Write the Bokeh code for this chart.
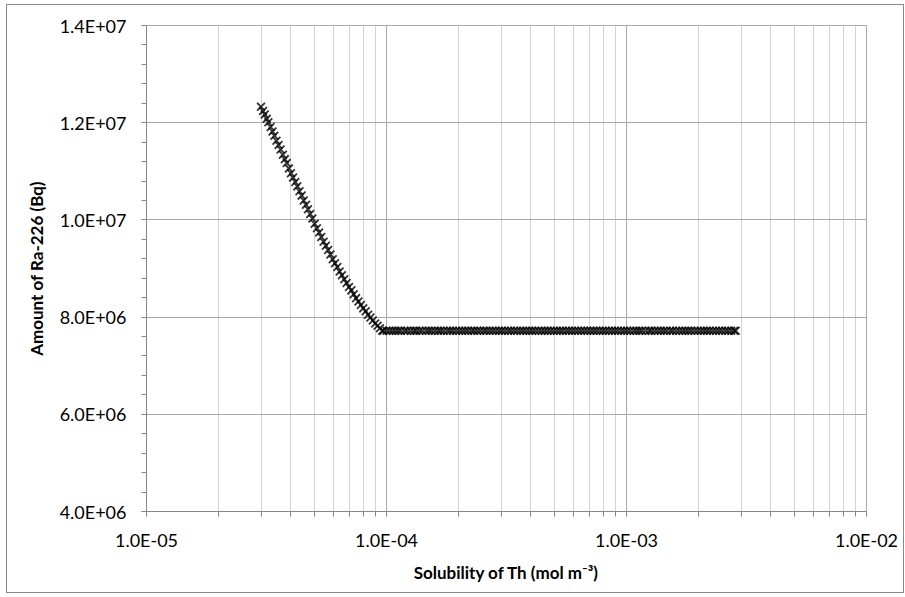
from bokeh.plotting import figure
from bokeh.models import ColumnDataSource, FixedTicker, CustomJSTickFormatter
from bokeh.embed import file_html
from bokeh.resources import INLINE

# Solubility of Th (mol m^-3) on the falling part of the curve
slope_x = [3.00e-5, 3.06e-5, 3.11e-5, 3.17e-5, 3.22e-5, 3.29e-5, 3.35e-5, 3.41e-5,
           3.48e-5, 3.55e-5, 3.62e-5, 3.70e-5, 3.77e-5, 3.84e-5, 3.92e-5, 4.00e-5,
           4.08e-5, 4.17e-5, 4.25e-5, 4.34e-5, 4.43e-5, 4.52e-5, 4.62e-5, 4.71e-5,
           4.81e-5, 4.91e-5, 5.02e-5, 5.13e-5, 5.24e-5, 5.35e-5, 5.47e-5, 5.59e-5,
           5.71e-5, 5.84e-5, 5.97e-5, 6.10e-5, 6.24e-5, 6.38e-5, 6.52e-5, 6.67e-5,
           6.82e-5, 6.98e-5, 7.14e-5, 7.30e-5, 7.47e-5, 7.64e-5, 7.82e-5, 8.00e-5,
           8.19e-5, 8.38e-5, 8.57e-5, 8.77e-5, 8.97e-5, 9.18e-5, 9.39e-5, 9.60e-5]
# Amount of Ra-226 (Bq) for those solubilities
slope_y = [1.233e7, 1.224e7, 1.217e7, 1.208e7, 1.201e7, 1.191e7, 1.182e7, 1.173e7,
           1.163e7, 1.154e7, 1.145e7, 1.134e7, 1.125e7, 1.117e7, 1.106e7, 1.096e7,
           1.087e7, 1.078e7, 1.069e7, 1.059e7, 1.050e7, 1.040e7, 1.031e7, 1.022e7,
           1.012e7, 1.003e7, 9.92e6, 9.83e6, 9.74e6, 9.65e6, 9.55e6, 9.47e6,
           9.38e6, 9.29e6, 9.19e6, 9.11e6, 9.03e6, 8.94e6, 8.86e6, 8.78e6,
           8.70e6, 8.62e6, 8.55e6, 8.47e6, 8.39e6, 8.32e6, 8.25e6, 8.18e6,
           8.12e6, 8.05e6, 7.99e6, 7.93e6, 7.87e6, 7.82e6, 7.77e6, 7.72e6]

# Solubilities above the knee, where the inventory stays constant
flat_x = [0.97e-4, 1.00e-4, 1.03e-4, 1.06e-4, 1.09e-4, 1.12e-4, 1.15e-4, 1.19e-4,
          1.22e-4, 1.26e-4, 1.30e-4, 1.33e-4, 1.37e-4, 1.41e-4, 1.46e-4, 1.50e-4,
          1.54e-4, 1.59e-4, 1.64e-4, 1.68e-4, 1.73e-4, 1.79e-4, 1.84e-4, 1.89e-4,
          1.95e-4, 2.01e-4, 2.07e-4, 2.13e-4, 2.19e-4, 2.26e-4, 2.32e-4, 2.39e-4,
          2.46e-4, 2.54e-4, 2.61e-4, 2.69e-4, 2.77e-4, 2.85e-4, 2.94e-4, 3.02e-4,
          3.11e-4, 3.21e-4, 3.30e-4, 3.40e-4, 3.50e-4, 3.61e-4, 3.71e-4, 3.82e-4,
          3.94e-4, 4.05e-4, 4.17e-4, 4.30e-4, 4.43e-4, 4.56e-4, 4.69e-4, 4.83e-4,
          4.98e-4, 5.13e-4, 5.28e-4, 5.43e-4, 5.60e-4, 5.76e-4, 5.93e-4, 6.11e-4,
          6.29e-4, 6.48e-4, 6.67e-4, 6.87e-4, 7.08e-4, 7.29e-4, 7.50e-4, 7.73e-4,
          7.96e-4, 8.19e-4, 8.44e-4, 8.69e-4, 8.95e-4, 9.21e-4, 9.49e-4, 9.77e-4,
          1.006e-3, 1.036e-3, 1.07e-3, 1.10e-3, 1.13e-3, 1.16e-3, 1.20e-3, 1.24e-3,
          1.27e-3, 1.31e-3, 1.35e-3, 1.39e-3, 1.43e-3, 1.47e-3, 1.52e-3, 1.56e-3,
          1.61e-3, 1.66e-3, 1.71e-3, 1.76e-3, 1.81e-3, 1.86e-3, 1.92e-3, 1.98e-3,
          2.04e-3, 2.10e-3, 2.16e-3, 2.22e-3, 2.29e-3, 2.36e-3, 2.43e-3, 2.50e-3,
          2.58e-3, 2.65e-3, 2.73e-3, 2.81e-3, 2.85e-3]
flat_level = 7.72e6
flat_y = [flat_level] * len(flat_x)

x_ticks = [1e-5, 1e-4, 1e-3, 1e-2]
y_ticks = [4e6, 6e6, 8e6, 1.0e7, 1.2e7, 1.4e7]

FONT = "Lato"
AXIS_GREY = "#868686"
MAJOR_GRID = "#a9a9a9"
MINOR_GRID = "#d3d3d3"

src = ColumnDataSource(data=dict(x=slope_x + flat_x, y=slope_y + flat_y))

p = figure(
    x_axis_type="log",
    x_range=(x_ticks[0], x_ticks[-1]),
    y_range=(y_ticks[0], y_ticks[-1]),
    frame_width=720, frame_height=486,
    min_border_left=139, min_border_right=37,
    min_border_top=20, min_border_bottom=81,
    output_backend="svg", toolbar_location=None,
    background_fill_color="white", border_fill_color="white",
)
p.margin = (4, 0, 0, 6)
p.styles = {"border": "1px solid #8a8a8a"}
p.outline_line_color = MAJOR_GRID

sci = CustomJSTickFormatter(code=r"""
const s = tick.toExponential(1).toUpperCase();
return s.replace(/E([+-])(\d+)$/, (m, sg, d) => "E" + sg + d.padStart(2, "0"));
""")

# x axis: decades with 2..9 minor ticks
x_minor = [m * d for d in x_ticks[:-1] for m in range(2, 10)]
p.xaxis.ticker = FixedTicker(ticks=x_ticks, minor_ticks=x_minor)
p.xgrid.ticker = p.xaxis.ticker
p.xaxis.formatter = sci

# y axis: majors every 2E+06, four minors between
y_minor = [y_ticks[0] + k * 4e5 for k in range(int((y_ticks[-1] - y_ticks[0]) / 4e5) + 1)]
p.yaxis.ticker = FixedTicker(ticks=y_ticks, minor_ticks=y_minor)
p.ygrid.ticker = FixedTicker(ticks=y_ticks)
p.yaxis.formatter = sci

for ax in (p.xaxis, p.yaxis):
    ax.axis_line_color = AXIS_GREY
    ax.major_tick_line_color = AXIS_GREY
    ax.minor_tick_line_color = AXIS_GREY
    ax.major_tick_in = 0
    ax.major_tick_out = 5
    ax.minor_tick_in = 0
    ax.minor_tick_out = 5
    ax.major_label_text_font = FONT
    ax.major_label_text_font_size = "18px"
    ax.major_label_text_color = "black"
    ax.axis_label_text_font = FONT
    ax.axis_label_text_font_size = "17px"
    ax.axis_label_text_font_style = "bold"
    ax.axis_label_text_color = "black"

p.xaxis.axis_label = "Solubility of Th (mol m\u207b\u00b3)"
p.yaxis.axis_label = "Amount of Ra-226 (Bq)"
p.xaxis.major_label_standoff = 12
p.xaxis.axis_label_standoff = 8
p.yaxis.major_label_standoff = 15
p.yaxis.axis_label_standoff = 10

p.xgrid.grid_line_color = MAJOR_GRID
p.xgrid.minor_grid_line_color = MINOR_GRID
p.ygrid.grid_line_color = MAJOR_GRID
p.ygrid.minor_grid_line_color = None

p.scatter("x", "y", source=src, marker="x", size=11,
          line_color="black", line_alpha=0.8, line_width=1.8)

open("out.html", "w").write(file_html(p, INLINE))
